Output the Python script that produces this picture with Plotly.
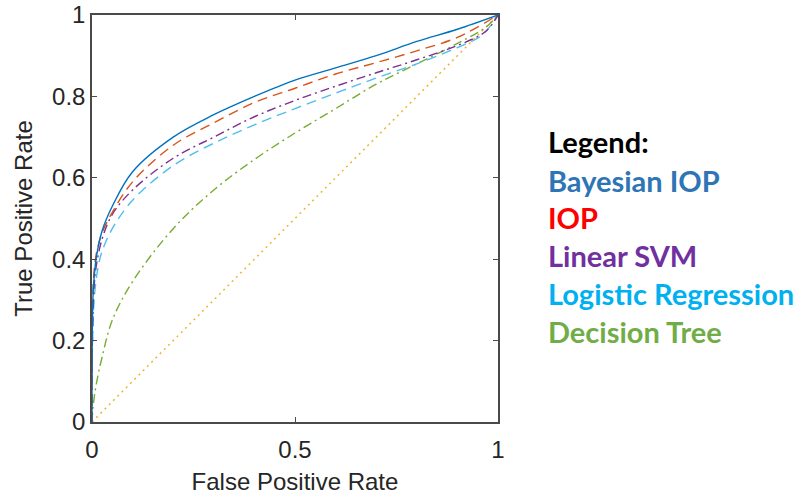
import plotly.graph_objects as go

# ROC data
bay_fpr = [0, 0.0005, 0.003, 0.01, 0.025, 0.05, 0.1, 0.2, 0.3, 0.4, 0.5, 0.6, 0.7, 0.8, 0.9, 1]
bay_tpr = [0, 0.20, 0.32, 0.40, 0.47, 0.53, 0.615, 0.70, 0.755, 0.80, 0.84, 0.87, 0.90, 0.935, 0.965, 1]

iop_fpr = [0, 0.0005, 0.003, 0.01, 0.025, 0.05, 0.1, 0.2, 0.3, 0.4, 0.5, 0.6, 0.7, 0.8, 0.9, 1]
iop_tpr = [0, 0.22, 0.34, 0.41, 0.465, 0.515, 0.59, 0.68, 0.735, 0.785, 0.82, 0.855, 0.883, 0.912, 0.945, 1]

svm_fpr = [0, 0.001, 0.005, 0.01, 0.025, 0.05, 0.1, 0.2, 0.3, 0.4, 0.5, 0.6, 0.7, 0.8, 0.9, 0.97, 1]
svm_tpr = [0, 0.20, 0.33, 0.38, 0.45, 0.51, 0.57, 0.648, 0.70, 0.75, 0.79, 0.825, 0.858, 0.89, 0.925, 0.96, 1]

lr_fpr = [0, 0.001, 0.006, 0.015, 0.025, 0.05, 0.1, 0.2, 0.3, 0.4, 0.5, 0.6, 0.7, 0.8, 0.9, 0.96, 1]
lr_tpr = [0, 0.18, 0.31, 0.38, 0.42, 0.475, 0.545, 0.63, 0.685, 0.73, 0.77, 0.808, 0.845, 0.88, 0.92, 0.95, 1]

dt_fpr = [0, 0.003, 0.01, 0.025, 0.05, 0.1, 0.2, 0.3, 0.4, 0.5, 0.6, 0.7, 0.8, 0.9, 0.97, 1]
dt_tpr = [0, 0.04, 0.09, 0.16, 0.25, 0.345, 0.475, 0.57, 0.645, 0.71, 0.77, 0.83, 0.88, 0.93, 0.97, 1]

diag = [0, 1]

legend_labels = ["Legend:", "Bayesian IOP", "IOP", "Linear SVM", "Logistic Regression", "Decision Tree"]
legend_colors = ["#000000", "#2E75B6", "#FF0000", "#7030A0", "#00B0F0", "#70AD47"]

DASH = "10px,6px"
DASHDOT = "9px,4px,2px,4px"
DOT = "2px,4px"

fig = go.Figure()
fig.add_trace(go.Scatter(x=diag, y=diag, mode="lines",
                         line=dict(color="#EDB120", width=1.4, dash=DOT)))
fig.add_trace(go.Scatter(x=dt_fpr, y=dt_tpr, mode="lines", line_shape="spline",
                         line=dict(color="#77AC30", width=1.4, dash=DASHDOT)))
fig.add_trace(go.Scatter(x=lr_fpr, y=lr_tpr, mode="lines", line_shape="spline",
                         line=dict(color="#4DBEEE", width=1.4, dash=DASH)))
fig.add_trace(go.Scatter(x=svm_fpr, y=svm_tpr, mode="lines", line_shape="spline",
                         line=dict(color="#7E2F8E", width=1.4, dash=DASHDOT)))
fig.add_trace(go.Scatter(x=iop_fpr, y=iop_tpr, mode="lines", line_shape="spline",
                         line=dict(color="#D95319", width=1.4, dash=DASH)))
fig.add_trace(go.Scatter(x=bay_fpr, y=bay_tpr, mode="lines", line_shape="spline",
                         line=dict(color="#0072BD", width=1.4)))

axis_common = dict(
    showgrid=False, zeroline=False, showline=True, mirror="ticks", automargin=False,
    linecolor="#4a4a4a", linewidth=1.5, ticks="inside", ticklen=5,
    tickcolor="#4a4a4a", tickwidth=1,
    tickfont=dict(family="Liberation Sans, Arial", size=24, color="#262626"),
    title_font=dict(family="Liberation Sans, Arial", size=24, color="#262626"),
)

fig.update_xaxes(range=[0, 1], tickvals=[0, 0.5, 1], ticktext=["0", "0.5", "1"],
                 title_text="False Positive Rate", title_standoff=12,
                 ticklabelstandoff=5, **axis_common)
fig.update_yaxes(range=[0, 1], tickvals=[0, 0.2, 0.4, 0.6, 0.8, 1],
                 ticktext=["0", "0.2", "0.4", "0.6", "0.8", "1"],
                 title_text="True Positive Rate", title_standoff=13, **axis_common)

ys_px = [141, 180, 217, 255, 293, 331]
for lab, col, py in zip(legend_labels, legend_colors, ys_px):
    fig.add_annotation(xref="paper", yref="paper", x=1.117, y=(422 - py) / 407,
                       xanchor="left", yanchor="middle", showarrow=False,
                       text="<b>" + lab + "</b>",
                       font=dict(family="Lato, Open Sans", size=29, color=col))

fig.update_layout(width=799, height=499, showlegend=False,
                  margin=dict(l=92, r=301, t=15, b=77),
                  paper_bgcolor="white", plot_bgcolor="white")

fig.write_html("out.html", config={"displayModeBar": False},
               post_script="document.body.style.margin='0px';document.body.style.overflow='hidden';")
